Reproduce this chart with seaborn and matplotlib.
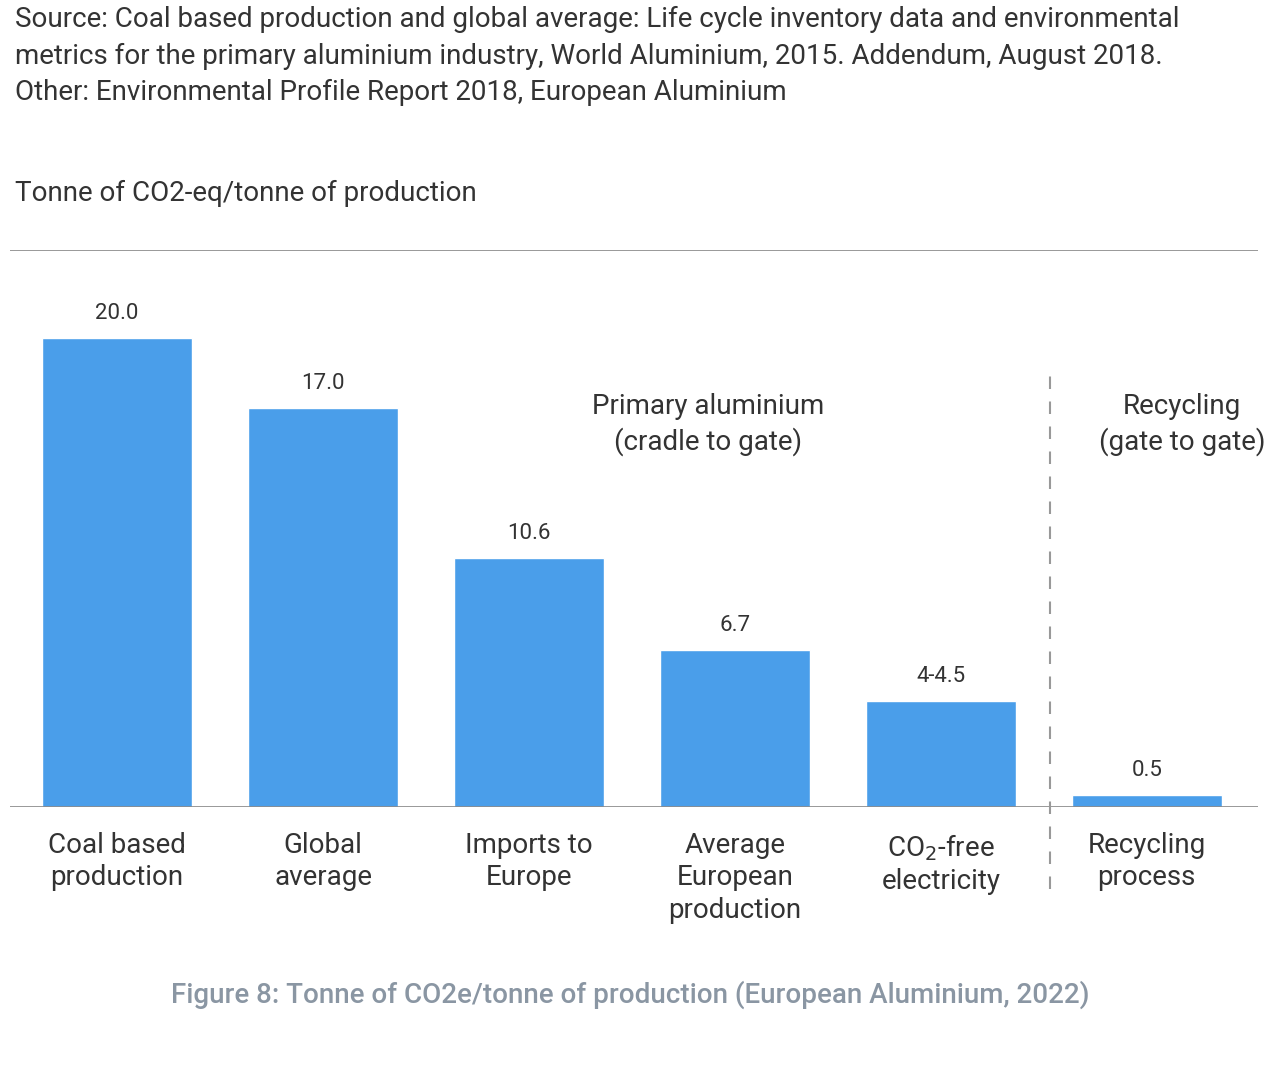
import matplotlib
matplotlib.use("Agg")
import matplotlib.pyplot as plt
import seaborn as sns
import pandas as pd

categories = ["Coal based\nproduction", "Global\naverage", "Imports to\nEurope",
              "Average\nEuropean\nproduction", "CO$_2$-free\nelectricity", "Recycling\nprocess"]
values = [20.0, 17.0, 10.6, 6.7, 4.5, 0.5]
value_labels = ["20.0", "17.0", "10.6", "6.7", "4-4.5", "0.5"]

sns.set_theme(style="white")
plt.rcParams['font.family'] = ['Roboto', 'DejaVu Sans']

fig = plt.figure(figsize=(12.8, 10.66), dpi=100)
W, H = 1280, 1066
ax = fig.add_axes([10/W, 1-807/H, 1248/W, (807-250)/H])
df = pd.DataFrame({"cat": categories, "val": values})
sns.barplot(data=df, x="cat", y="val", color="#4A9EEA", saturation=1, width=0.73, ax=ax)
ax.set_xlim(-0.52, 5.54)
ax.set_ylim(0, 23.75)
ax.set_yticks([])
ax.set_xlabel(""); ax.set_ylabel("")
for s in ["left", "right", "bottom", "top"]:
    ax.spines[s].set_visible(False)
ax.axhline(0, color="#888888", lw=1.2)
ax.axhline(23.75, color="#888888", lw=1.2)
ax.tick_params(axis="x", length=0, pad=18, labelsize=20, labelcolor="#333333")
for lab in ax.get_xticklabels():
    lab.set_linespacing(1.25)
for i, (v, l) in enumerate(zip(values, value_labels)):
    ax.text(i, v + 0.6, l, ha="center", va="bottom", fontsize=16, color="#333333")
ax.plot([4.53, 4.53], [-3.5, 18.6], color="#999999", lw=1.5, ls=(0, (6, 6)), clip_on=False)
ax.text(2.87, 16.3, "Primary aluminium\n(cradle to gate)", ha="center", va="center",
        fontsize=20, color="#333333", linespacing=1.3)
ax.text(5.17, 16.3, "Recycling\n(gate to gate)", ha="center", va="center",
        fontsize=20, color="#333333", linespacing=1.3)

fig.text(15/W, 1-6/H, "Source: Coal based production and global average: Life cycle inventory data and environmental\n"
         "metrics for the primary aluminium industry, World Aluminium, 2015. Addendum, August 2018.\n"
         "Other: Environmental Profile Report 2018, European Aluminium",
         ha="left", va="top", fontsize=20, color="#333333", linespacing=1.45)
fig.text(15/W, 1-193/H, "Tonne of CO2-eq/tonne of production", ha="left", va="center",
         fontsize=20, color="#333333")
fig.text(630/W, 1-995/H, "Figure 8: Tonne of CO2e/tonne of production (European Aluminium, 2022)",
         ha="center", va="center", fontsize=20, color="#8a96a3", fontweight="medium")
fig.savefig("out.png", dpi=100, facecolor="white")
